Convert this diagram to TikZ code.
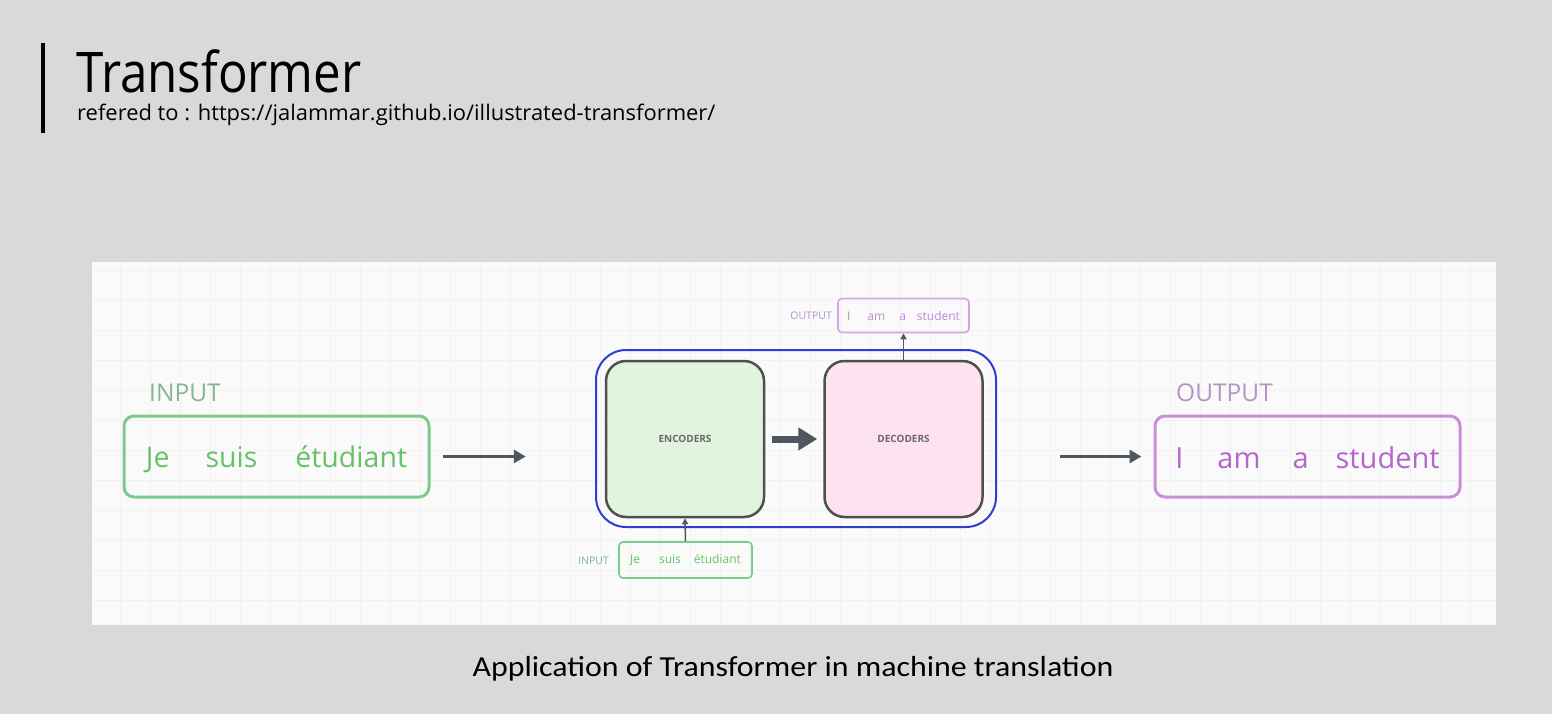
\documentclass[tikz,border=0pt]{standalone}
\usepackage{fontspec}
\setmainfont{Open Sans}
\newfontfamily\capfont{Carlito}
\usetikzlibrary{arrows.meta}
\definecolor{slidebg}{HTML}{D9D9D9}
\definecolor{panelbg}{HTML}{FAFAFA}
\definecolor{gridc}{HTML}{F2F2F2}
\definecolor{gstroke}{HTML}{7DCB8C}
\definecolor{gtext}{HTML}{66C266}
\definecolor{glabel}{HTML}{86B594}
\definecolor{pstroke}{HTML}{C98FD9}
\definecolor{ptext}{HTML}{B466CC}
\definecolor{plabel}{HTML}{B494C8}
\definecolor{darkarrow}{HTML}{50565E}
\definecolor{bluebox}{HTML}{2B3FD0}
\definecolor{encfill}{HTML}{E1F4DE}
\definecolor{decfill}{HTML}{FDE3F0}
\definecolor{boxstroke}{HTML}{4F4F4F}
\tikzset{
  bigbox/.style={draw, line width=3pt, rounded corners=10pt, minimum width=305pt, minimum height=81pt, inner sep=0pt},
  smallbox/.style={draw, line width=1.6pt, rounded corners=4pt, minimum height=34pt, inner sep=0pt, font=\fontsize{12}{13}\selectfont},
  coder/.style={draw=boxstroke, line width=2.5pt, rounded corners=20pt, minimum width=158pt, minimum height=156pt, inner sep=0pt, font=\fontsize{10}{12}\selectfont\bfseries, text=boxstroke!85},
  flow/.style={draw=darkarrow, line width=3pt, -{Triangle[length=12pt,width=13pt]}},
  thin flow/.style={draw=darkarrow, line width=1.5pt, -{Triangle[length=6pt,width=6pt]}},
  biglabel/.style={font=\fontsize{24.5}{26}\selectfont, anchor=base west, inner sep=0pt},
  smalllabel/.style={font=\fontsize{10.5}{11}\selectfont, anchor=east, inner sep=0pt},
}
\begin{document}
\begin{tikzpicture}[x=1pt,y=-1pt]
\useasboundingbox (0,0) rectangle (1552,714);
\fill[slidebg] (0,0) rectangle (1552,714);
% title
\fill[black] (41,43) rectangle (45,133);
\node[anchor=base west, inner sep=0pt, font=\fontsize{56}{60}\selectfont] (title) at (76,93) {\scalebox{0.88}[1]{Transformer}};
\node[anchor=base west, inner sep=0pt, font=\fontsize{21.5}{24}\selectfont] (subtitle) at (77,121) {\scalebox{1.02}[1]{refered to : https://jalammar.github.io/illustrated-transformer/}};
% panel
\fill[panelbg] (92,262) rectangle (1496,625);
\begin{scope}
\clip (92,262) rectangle (1496,625);
\draw[gridc, line width=0.6pt, step=30pt] (92,262) grid (1496,625);
\end{scope}
% left input
\node[biglabel, text=glabel] (inlabel) at (149,401) {INPUT};
\node[bigbox, draw=gstroke] (inbox) at (276.5,456.5) {};
\node[text=gtext, font=\fontsize{28.5}{30}\selectfont, inner sep=0pt, yshift=-2.5pt] (intext) at (inbox.center) {Je\hspace{36pt}suis\hspace{38pt}étudiant};
% right output
\node[biglabel, text=plabel] (outlabel) at (1176,401) {OUTPUT};
\node[bigbox, draw=pstroke] (outbox) at (1307.5,456.5) {};
\node[text=ptext, font=\fontsize{29}{30}\selectfont, inner sep=0pt, yshift=-1pt] (outtext) at (outbox.center) {I\hspace{34pt}am\hspace{32pt}a\hspace{27pt}student};
% transformer
\draw[bluebox, line width=2pt, rounded corners=30pt] (596,350) rectangle (996,527);
\node[coder, fill=encfill] (enc) at (685,439) {ENCODERS};
\node[coder, fill=decfill] (dec) at (903.5,439) {DECODERS};
\draw[draw=darkarrow, line width=7pt, -{Triangle[length=19pt,width=22pt]}] ([xshift=7pt]enc.east) -- ([xshift=-6pt]dec.west);
% small boxes
\node[smallbox, draw=pstroke!80, text=ptext!80, minimum width=131pt] (smallout) at (903.5,315.5) {I\hspace{17pt}am\hspace{14pt}a\hspace{11pt}student};
\node[smalllabel, text=plabel] (smalloutlabel) at (832,315.5) {OUTPUT};
\node[smallbox, draw=gstroke, text=gtext, minimum width=133pt, minimum height=36pt] (smallin) at (685.5,560) {Je\hspace{19pt}suis\hspace{13pt}étudiant};
\node[smalllabel, text=glabel] (smallinlabel) at (609,561) {INPUT};
\draw[thin flow] (smallin.north) -- (enc.south);
\draw[thin flow] (dec.north) -- (smallout.south);
% big arrows
\draw[flow] ([xshift=12pt]inbox.east) -- ([xshift=-79pt]enc.west |- inbox.east);
\draw[flow] ([xshift=76pt]dec.east |- outbox.west) -- ([xshift=-12pt]outbox.west);
% caption
\node[font=\capfont\fontsize{29}{32}\selectfont, inner sep=0pt, anchor=base] (caption) at (793,676) {\scalebox{1.1}[1]{Application of Transformer in machine translation}};
\end{tikzpicture}
\end{document}
